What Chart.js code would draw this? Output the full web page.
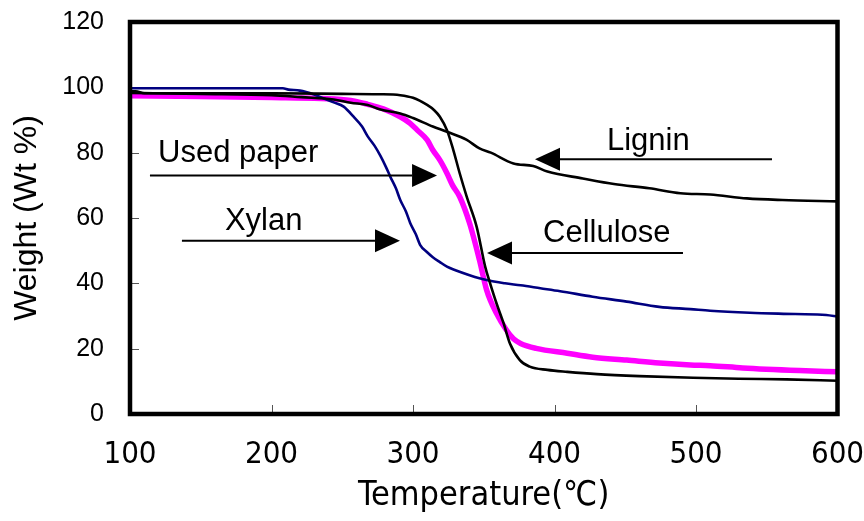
<!DOCTYPE html>
<html>
<head>
<meta charset="utf-8">
<script src="https://cdn.jsdelivr.net/npm/chart.js@4/dist/chart.umd.min.js"></script>
<style>
  html, body { margin: 0; padding: 0; background: #ffffff; }
  #wrap { width: 864px; height: 521px; }
</style>
</head>
<body>
<div id="wrap"><canvas id="tg"></canvas></div>
<script>
// Thermogravimetric curves: residual weight (%) against temperature (°C)
const xylanTemp   = [100, 150, 208, 212, 220, 230, 237, 244, 251, 258, 264, 268, 273, 277, 281, 284, 288, 291, 295, 298, 302, 305, 310, 314, 319, 324, 330, 340, 352, 365, 376, 390, 404, 427, 451, 474, 496, 510, 538, 570, 592, 600];
const xylanWeight = [99.7, 99.7, 99.7, 99.3, 99.0, 97.8, 96.6, 95.4, 94.1, 91.0, 88.0, 85.0, 82.0, 79.0, 75.5, 72.6, 69.0, 65.5, 62.0, 58.5, 55.0, 51.8, 49.5, 48.0, 46.5, 45.1, 44.0, 42.5, 41.0, 40.0, 39.4, 38.5, 37.6, 35.9, 34.4, 32.8, 32.1, 31.6, 31.0, 30.6, 30.3, 29.8];

const celluloseTemp   = [100, 104, 110, 150, 200, 250, 275, 291, 300, 310, 315, 319, 324, 328.5, 333, 338, 345, 351, 354.5, 359, 364, 368.5, 375.5, 382.5, 395, 409, 430, 460, 498, 530, 564, 600];
const celluloseWeight = [98.8, 98.8, 98.2, 98.2, 98.2, 98.0, 97.9, 97.6, 96.8, 94.6, 93.0, 91.0, 86.9, 80.8, 73.7, 66.5, 57.3, 45.1, 40.0, 33.9, 27.8, 21.6, 16.5, 14.5, 13.5, 12.9, 12.2, 11.6, 11.1, 10.8, 10.6, 10.2];

const ligninTemp   = [100, 150, 200, 221, 244, 256, 268, 277, 291, 300, 314, 324, 338, 347, 355, 371, 385, 395, 420, 442, 467, 489, 510, 536, 561, 600];
const ligninWeight = [98.3, 98.0, 97.6, 97.0, 96.3, 95.3, 94.6, 93.2, 92.0, 90.6, 88.0, 86.4, 83.9, 81.3, 80.0, 76.7, 75.9, 74.2, 72.1, 70.4, 69.1, 67.6, 67.2, 66.0, 65.5, 65.1];

const paperTemp   = [100, 150, 200, 235, 256, 268, 279, 291, 298, 303, 310, 314, 319, 324, 328, 333, 340, 347, 352, 359, 366, 371, 376, 387, 409, 427, 451, 474, 496, 510, 533, 573, 600];
const paperWeight = [97.4, 97.2, 96.9, 96.6, 96.0, 94.8, 93.4, 91.0, 89.0, 86.9, 83.9, 80.8, 77.7, 73.7, 70.0, 66.5, 58.4, 47.1, 38.0, 30.8, 25.7, 23.0, 21.6, 20.1, 18.6, 17.4, 16.5, 15.6, 15.0, 14.8, 14.1, 13.3, 12.9];

const xTickValues = [100, 200, 300, 400, 500, 600];
const yTickValues = [0, 20, 40, 60, 80, 100, 120];

// Labelled arrows, placed in data units (temperature, weight)
const callouts = [
  { text: 'Used paper', labelT: 119.8, labelW: 77.1, fromT: 114.1, toT: 317.0, arrowW: 73.0 },
  { text: 'Xylan',      labelT: 167.1, labelW: 56.3, fromT: 136.7, toT: 290.8, arrowW: 53.0 },
  { text: 'Lignin',     labelT: 437.1, labelW: 80.8, fromT: 553.7, toT: 386.2, arrowW: 78.0 },
  { text: 'Cellulose',  labelT: 391.9, labelW: 52.7, fromT: 490.8, toT: 352.3, arrowW: 49.3 }
];

const pairs = (t, w) => t.map((v, i) => ({ x: v, y: w[i] }));

const NARROW = "'Liberation Sans Narrow', 'DejaVu Sans Condensed', 'Liberation Sans', sans-serif";
const SANS = "'Liberation Sans', Arial, sans-serif";

const framePlugin = {
  id: 'framePlugin',
  beforeDatasetsDraw(chart) {
    const { ctx, chartArea: a, scales: { x, y } } = chart;
    ctx.save();
    ctx.strokeStyle = '#555555';
    ctx.lineWidth = 1;
    ctx.beginPath();
    x.ticks.forEach(t => {
      const px = Math.round(x.getPixelForValue(t.value)) + 0.5;
      ctx.moveTo(px, a.bottom);
      ctx.lineTo(px, a.bottom - 9);
    });
    y.ticks.forEach(t => {
      const py = Math.round(y.getPixelForValue(t.value)) + 0.5;
      ctx.moveTo(a.left, py);
      ctx.lineTo(a.left + 9, py);
    });
    ctx.stroke();
    ctx.restore();
  },
  afterDatasetsDraw(chart) {
    const { ctx, chartArea: a, scales: { x, y } } = chart;
    ctx.save();
    // arrows and their labels
    callouts.forEach(c => {
      const x0 = x.getPixelForValue(c.fromT);
      const x1 = x.getPixelForValue(c.toT);
      const py = y.getPixelForValue(c.arrowW);
      const dir = Math.sign(x1 - x0);
      const head = 25, half = 11.5;
      ctx.strokeStyle = '#000';
      ctx.lineWidth = 2;
      ctx.beginPath();
      ctx.moveTo(x0, py);
      ctx.lineTo(x1 - dir * head, py);
      ctx.stroke();
      ctx.fillStyle = '#000';
      ctx.beginPath();
      ctx.moveTo(x1, py);
      ctx.lineTo(x1 - dir * head, py - half);
      ctx.lineTo(x1 - dir * head, py + half);
      ctx.closePath();
      ctx.fill();
      ctx.font = "31px " + SANS;
      ctx.textAlign = 'left';
      ctx.textBaseline = 'alphabetic';
      ctx.fillText(c.text, x.getPixelForValue(c.labelT), y.getPixelForValue(c.labelW));
    });
    // plot frame
    ctx.strokeStyle = '#000';
    ctx.lineWidth = 4.5;
    ctx.strokeRect(a.left, a.top, a.right - a.left, a.bottom - a.top);
    ctx.restore();
  }
};

new Chart(document.getElementById('tg'), {
  type: 'scatter',
  data: {
    datasets: [
      { label: 'Cellulose', data: pairs(celluloseTemp, celluloseWeight), borderColor: '#000000', borderWidth: 2.6, order: 0 },
      { label: 'Lignin', data: pairs(ligninTemp, ligninWeight), borderColor: '#000000', borderWidth: 2.6, order: 1 },
      { label: 'Xylan', data: pairs(xylanTemp, xylanWeight), borderColor: '#000080', borderWidth: 2.6, order: 2 },
      { label: 'Used paper', data: pairs(paperTemp, paperWeight), borderColor: '#FF00FF', borderWidth: 5.5, order: 3 }
    ].map(d => Object.assign(d, { showLine: true, pointRadius: 0, pointHoverRadius: 0, fill: false, cubicInterpolationMode: 'monotone' }))
  },
  options: {
    responsive: true,
    maintainAspectRatio: false,
    animation: false,
    events: [],
    layout: { padding: { left: 0, top: 22, right: 26.5, bottom: 0 } },
    plugins: { legend: { display: false }, tooltip: { enabled: false } },
    scales: {
      x: {
        type: 'linear',
        min: 100, max: 600,
        afterBuildTicks: s => { s.ticks = xTickValues.map(v => ({ value: v })); },
        afterFit: s => { s.height = 107; s.paddingLeft = 0; s.paddingRight = 0; },
        grid: { display: false, drawTicks: false },
        border: { display: false },
        ticks: { color: '#000', font: { family: NARROW, size: 31 }, padding: 22, maxRotation: 0 },
        title: { display: true, text: 'Temperature(℃)', color: '#000', font: { family: NARROW, size: 34 }, padding: { top: 0, bottom: 4 } }
      },
      y: {
        min: 0, max: 120,
        afterBuildTicks: s => { s.ticks = yTickValues.map(v => ({ value: v })); },
        afterFit: s => { s.width = 130; s.paddingTop = 0; s.paddingBottom = 0; },
        grid: { display: false, drawTicks: false },
        border: { display: false },
        ticks: { color: '#000', font: { family: SANS, size: 25 }, padding: 26 },
        title: { display: true, text: 'Weight (Wt %)', color: '#000', font: { family: SANS, size: 32 }, padding: { top: 8, bottom: 0 } }
      }
    }
  },
  plugins: [framePlugin]
});
</script>
</body>
</html>
